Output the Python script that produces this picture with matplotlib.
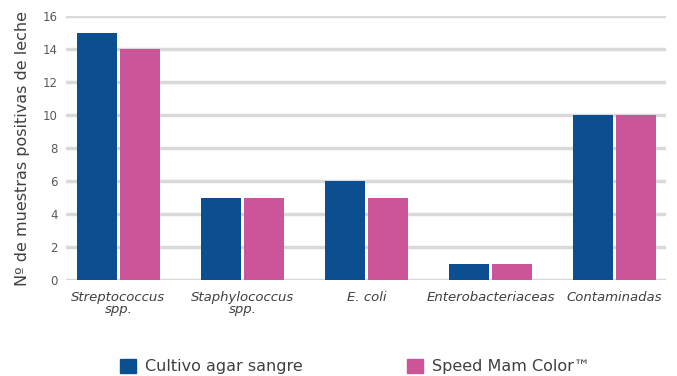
import matplotlib.pyplot as plt
from matplotlib.patches import Patch
import numpy as np

categories = ["Streptococcus\nspp.", "Staphylococcus\nspp.", "E. coli",
              "Enterobacteriaceas", "Contaminadas"]
agar_sangre = [15, 5, 6, 1, 10]
speed_mam = [14, 5, 5, 1, 10]

blue = "#0b4f91"
pink = "#cc5599"

fig = plt.figure(figsize=(6.77, 3.76), dpi=100)
ax = fig.add_axes([66 / 677, 96 / 376, 600 / 677, 264 / 376])

x = np.arange(len(categories))
w = 0.322
gap = 0.012
ax.bar(x - w / 2 - gap, agar_sangre, width=w, color=blue, zorder=3)
ax.bar(x + w / 2 + gap, speed_mam, width=w, color=pink, zorder=3)

ax.set_xlim(-0.423, 4.415)
ax.set_ylim(0, 16)
ax.set_yticks(range(0, 17, 2))
ax.yaxis.grid(True, color="#d9d9d9", linewidth=2.5, zorder=0)
ax.set_axisbelow(True)
for s in ax.spines.values():
    s.set_visible(False)
ax.tick_params(axis="both", length=0, colors="#595959", labelsize=8.5)
ax.tick_params(axis="y", pad=6)
ax.tick_params(axis="x", pad=8)
ax.set_xticks(x)
ax.set_xticklabels(categories, fontstyle="italic", fontsize=9.5,
                   color="#404040", linespacing=0.85)
ax.set_ylabel("Nº de muestras positivas de leche", fontsize=11.5,
              color="#404040", labelpad=9)

handles = [Patch(color=blue, label="Cultivo agar sangre"),
           Patch(color=pink, label="Speed Mam Color™")]
fig.legend(handles=handles, loc="upper left", bbox_to_anchor=(115 / 677, 1 - 354 / 376),
           ncol=2, frameon=False, fontsize=11.5, handlelength=1.0, handleheight=1.0,
           handletextpad=0.6, columnspacing=6.5, labelcolor="#404040",
           borderaxespad=0, borderpad=0.3)

fig.savefig("out.png", dpi=100)
